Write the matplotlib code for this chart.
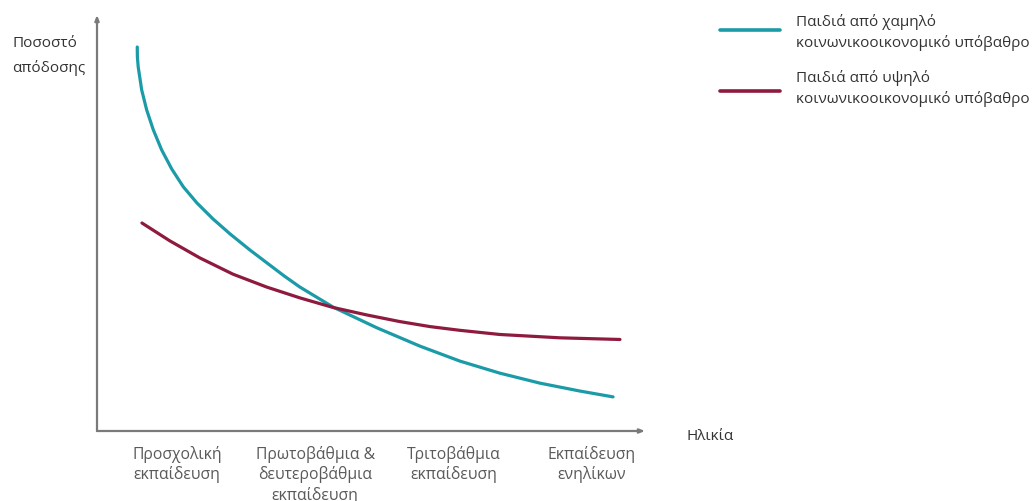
import matplotlib
matplotlib.use('Agg')
import matplotlib.pyplot as plt

plt.rcParams['font.family'] = ['Open Sans', 'DejaVu Sans']

categories = ['Προσχολική\nεκπαίδευση', 'Πρωτοβάθμια &\nδευτεροβάθμια\nεκπαίδευση',
              'Τριτοβάθμια\nεκπαίδευση', 'Εκπαίδευση\nενηλίκων']
# x in category units (0 = first stage), y = relative rate of return (0-100)
low_x = [-0.287, -0.286, -0.280, -0.255, -0.219, -0.171, -0.111, -0.038, 0.046,
         0.145, 0.260, 0.383, 0.528, 0.651, 0.774, 0.889, 1.128, 1.446,
         1.757, 2.046, 2.335, 2.625, 2.914, 3.153]
low_y = [92.3, 89.9, 87.5, 82.0, 77.2, 72.4, 67.6, 63.0, 58.7,
         54.8, 51.0, 47.4, 43.5, 40.4, 37.3, 34.6, 29.8, 24.8,
         20.4, 16.8, 13.9, 11.5, 9.6, 8.2]
high_x = [-0.253, -0.051, 0.166, 0.405, 0.649, 0.889, 1.128, 1.372, 1.612,
          1.829, 2.046, 2.335, 2.769, 3.203]
high_y = [50.0, 45.7, 41.6, 37.7, 34.6, 32.0, 29.7, 27.9, 26.3,
          25.1, 24.2, 23.2, 22.4, 22.0]
labels = ['Παιδιά από χαμηλό\nκοινωνικοοικονομικό υπόβαθρο',
          'Παιδιά από υψηλό\nκοινωνικοοικονομικό υπόβαθρο']
colors = ['#1b9ba8', '#8e1b3e']

W, H = 1036, 501
fig = plt.figure(figsize=(W/100, H/100), dpi=100)
ax = fig.add_axes([97/W, (H-431)/H, (645-97)/W, (431-15)/H])
ax.set_xlim(-0.578, 3.384)
ax.set_ylim(0, 100)
for s in ax.spines.values():
    s.set_visible(False)
ax.set_xticks([])
ax.set_yticks([])
ax.patch.set_alpha(0)

axis_col = '#7a7a7a'
ax.annotate('', xy=(0, 1), xytext=(0, 0), xycoords='axes fraction',
            arrowprops=dict(arrowstyle='-|>,head_length=0.3,head_width=0.12',
                            color=axis_col, lw=1.6, shrinkA=0, shrinkB=0))
ax.annotate('', xy=(1, 0), xytext=(0, 0), xycoords='axes fraction',
            arrowprops=dict(arrowstyle='-|>,head_length=0.3,head_width=0.12',
                            color=axis_col, lw=1.6, shrinkA=0, shrinkB=0))

ax.plot(low_x, low_y, color=colors[0], lw=2.3, solid_capstyle='round',
        solid_joinstyle='round')
ax.plot(high_x, high_y, color=colors[1], lw=2.3, solid_capstyle='round',
        solid_joinstyle='round')

txt_col = '#5a5a5a'
for i, c in enumerate(categories):
    ax.text(i, -3.5, c, ha='center', va='top', fontsize=11.3, color=txt_col,
            linespacing=1.3)

fig.text(12/W, 1 - 36/H, 'Ποσοστό\nαπόδοσης', ha='left', va='top',
         fontsize=11, color='#333333', linespacing=1.75)
fig.text(686/W, 1 - 437/H, 'Ηλικία', ha='left', va='center',
         fontsize=11, color='#333333')

# legend
for i, (lab, col) in enumerate(zip(labels, colors)):
    yl = 1 - (30 + 61*i)/H
    fig.add_artist(plt.Line2D([720/W, 780/W], [yl, yl], color=col, lw=2.6,
                              solid_capstyle='round'))
    fig.text(796/W, 1 - (14 + 56*i)/H, lab, ha='left', va='top',
             fontsize=11, color='#333333', linespacing=1.45)

fig.savefig('out.png', dpi=100)
